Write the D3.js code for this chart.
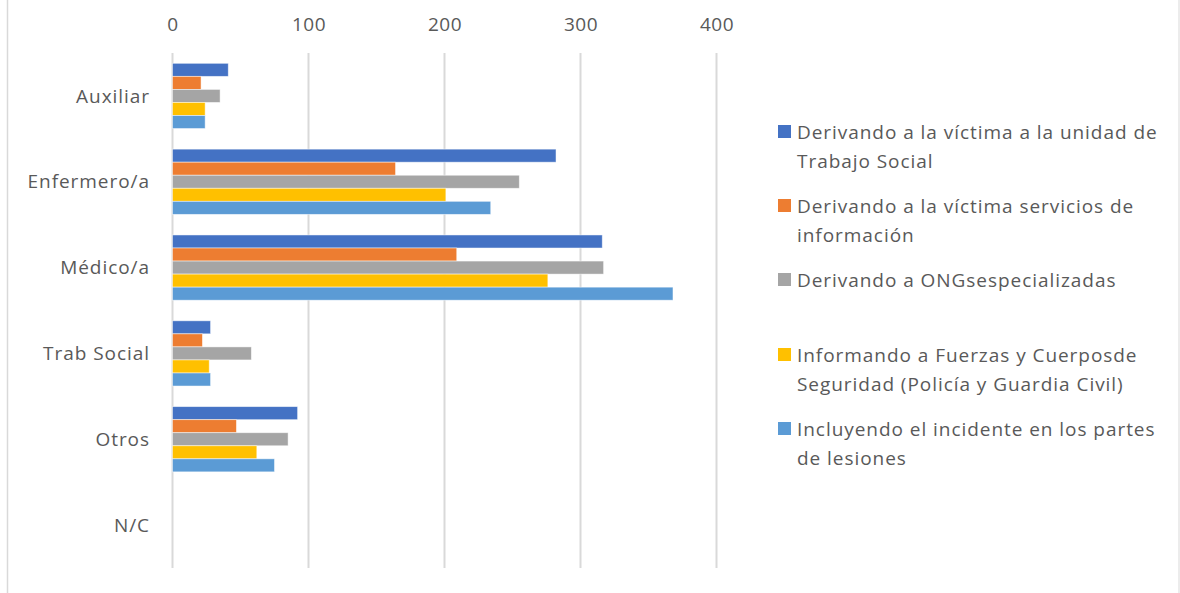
<!DOCTYPE html>
<html><head><meta charset="utf-8">
<script src="https://cdn.jsdelivr.net/npm/d3@7"></script>
<style>body{margin:0;background:#fff}svg{display:block}</style>
</head><body>
<script>
const categories = ["Auxiliar","Enfermero/a","Médico/a","Trab Social","Otros","N/C"];
const seriesNames = [
  "Derivando a la víctima a la unidad de Trabajo Social",
  "Derivando a la víctima servicios de información",
  "Derivando a ONGsespecializadas",
  "Informando a Fuerzas y Cuerposde Seguridad (Policía y Guardia Civil)",
  "Incluyendo el incidente en los partes de lesiones"
];
const legendLines = [
  ["Derivando a la víctima a la unidad de","Trabajo Social"],
  ["Derivando a la víctima servicios de","información"],
  ["Derivando a ONGsespecializadas"],
  ["Informando a Fuerzas y Cuerposde","Seguridad (Policía y Guardia Civil)"],
  ["Incluyendo el incidente en los partes","de lesiones"]
];
const trabajoSocial = [41, 282, 316, 28, 92, 0];
const servInformacion = [21, 164, 209, 22, 47, 0];
const ongs = [35, 255, 317, 58, 85, 0];
const fuerzas = [24, 201, 276, 27, 62, 0];
const partes = [24, 234, 368, 28, 75, 0];
const xTicks = [0, 100, 200, 300, 400];
const colors = ["#4472C4","#ED7D31","#A5A5A5","#FFC000","#5B9BD5"];
const series = [trabajoSocial, servInformacion, ongs, fuerzas, partes];

const W = 1180, H = 593;
const svg = d3.select("body").append("svg").attr("width", W).attr("height", H);
const font = "'Open Sans', Lato, sans-serif";
const fsize = 19, lspace = 0.95;

svg.append("line").attr("x1",7.5).attr("x2",7.5).attr("y1",0).attr("y2",H).attr("stroke","#d9d9d9").attr("stroke-width",1.5);
svg.append("line").attr("x1",1179).attr("x2",1179).attr("y1",0).attr("y2",H).attr("stroke","#d9d9d9").attr("stroke-width",1);

const x = d3.scaleLinear().domain([0,400]).range([172.5, 716.5]);
const y = d3.scaleBand().domain(categories).range([53, 568]);
const inner = d3.scaleBand().domain(d3.range(5)).range([0, y.bandwidth()]).paddingOuter(0.79).paddingInner(0);

svg.append("g").selectAll("line").data(xTicks).join("line")
  .attr("x1", d=>x(d)).attr("x2", d=>x(d)).attr("y1", 53).attr("y2", 568)
  .attr("stroke", "#d9d9d9").attr("stroke-width", 2);

const xAxis = d3.axisTop(x).tickValues(xTicks).tickSize(0).tickPadding(0);
const gx = svg.append("g").attr("transform","translate(0,31)").call(xAxis);
gx.select(".domain").remove();
gx.selectAll("text").attr("font-family",font).attr("font-size",fsize).attr("fill","#595959").attr("dy","0").attr("letter-spacing",0.5);

const yAxis = d3.axisLeft(y).tickSize(0).tickPadding(0);
const gy = svg.append("g").attr("transform","translate(150,0)").call(yAxis);
gy.select(".domain").remove();
gy.selectAll("text").attr("font-family",font).attr("font-size",fsize).attr("fill","#595959").attr("dy","0.35em").attr("letter-spacing",lspace);

series.forEach((vals, si) => {
  svg.append("g").selectAll("rect").data(vals.map((v,i)=>({v, c:categories[i]}))).join("rect")
    .attr("x", x(0)).attr("y", d => y(d.c) + inner(si))
    .attr("width", d => Math.max(0, x(d.v) - x(0))).attr("height", inner.bandwidth())
    .attr("fill", colors[si]).attr("stroke", d=> d.v>0 ? "rgba(255,255,255,0.6)" : "none").attr("stroke-width", 0.8);
});

const legendY = [132, 206, 280, 355, 429];
const lg = svg.append("g");
legendLines.forEach((lines, i) => {
  const g = lg.append("g").attr("transform", `translate(778,${legendY[i]})`);
  g.append("rect").attr("x",0).attr("y",-7).attr("width",13).attr("height",13).attr("fill",colors[i]);
  lines.forEach((t, j) => {
    g.append("text").attr("x",19).attr("y", j*29).attr("dy","0.35em")
      .attr("font-family",font).attr("font-size",fsize).attr("fill","#595959").attr("letter-spacing",lspace).text(t);
  });
});
</script>
</body></html>
